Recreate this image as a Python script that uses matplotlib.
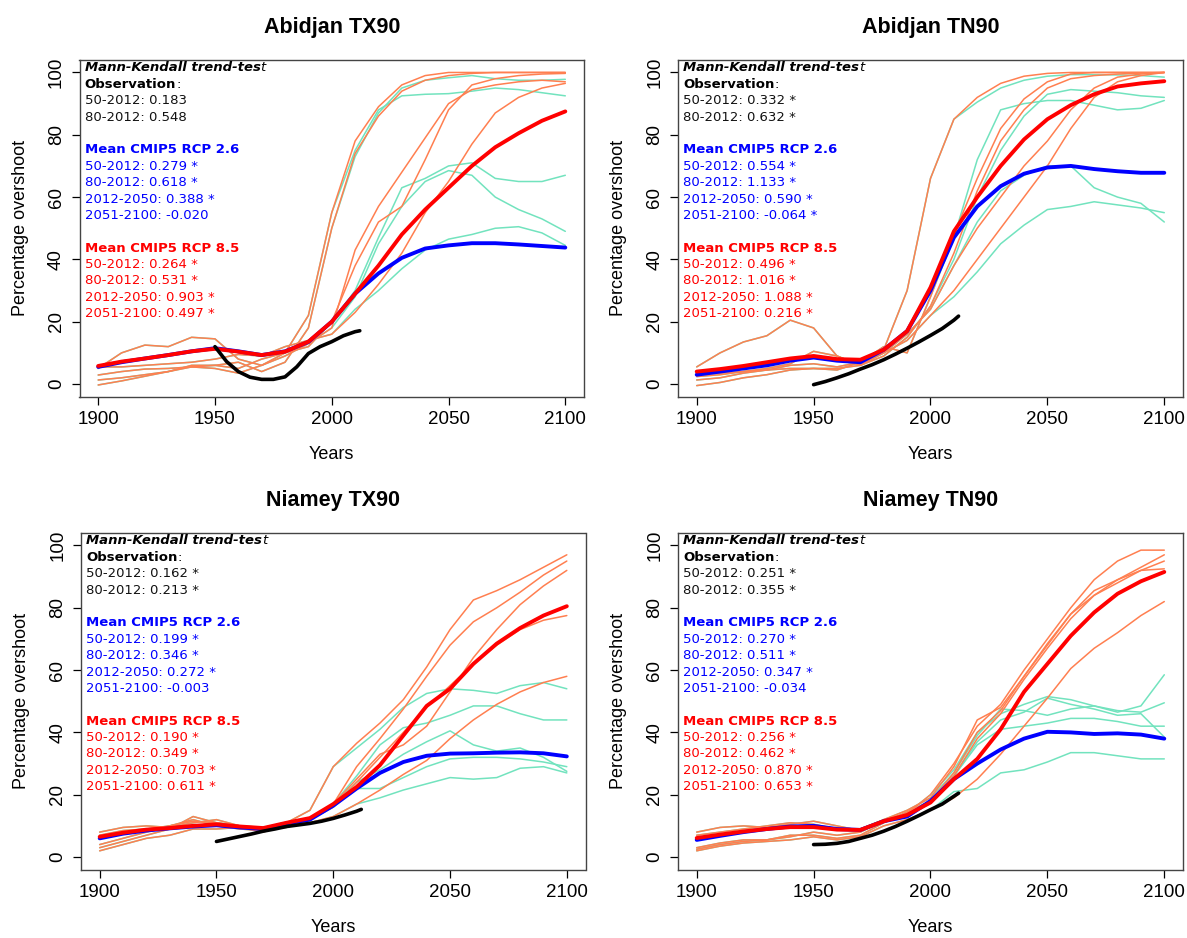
import matplotlib
matplotlib.use("Agg")
import matplotlib.pyplot as plt

# ──────────────────────────────────────────────
# data
# ──────────────────────────────────────────────

YEARS = list(range(1900, 2101, 10))          # 21 points
OBS_YEARS = [1950, 1955, 1960, 1965, 1970, 1975, 1980, 1985, 1990, 1995,
             2000, 2005, 2010, 2012]

# --- Abidjan TX90 ---
ABJ_TX90_HIST = [
    [5, 10, 12.5, 12, 15, 14.5, 8, 6, 10, 22, 55],
    [2.9, 4, 4.8, 5, 5.5, 6, 7, 4, 7, 18, 50],
    [1.3, 2, 3, 4, 6, 6, 5, 8, 10, 12, 20],
    [-0.3, 1, 2.5, 4, 5.5, 5, 3.5, 6, 9, 13, 18],
    [5.5, 5.5, 6, 6.5, 7, 8, 9.5, 9, 12, 14, 16],
]
ABJ_TX90_RCP26 = [
    [75, 88, 92.5, 93, 93.2, 94, 95, 94.5, 93.5, 92.5],
    [73, 87, 95, 97.5, 98.3, 99, 98, 97.5, 97.5, 97.8],
    [30, 47, 63, 66, 70, 71, 66, 65, 65, 67],
    [28, 45, 57, 65, 68.5, 67, 60, 56, 53, 49],
    [24, 30, 37, 43, 46.5, 48, 50, 50.5, 48.5, 44.5],
]
ABJ_TX90_RCP85 = [
    [78, 89, 96, 99, 100, 100, 100, 100, 100, 100],
    [74, 86, 94, 97.5, 99, 99.7, 100, 100, 100, 100],
    [38, 52, 57, 72, 88, 96, 98, 99, 99.5, 99.7],
    [43, 57, 68, 79, 90, 94.5, 96, 97, 97.5, 97],
    [23, 32, 42, 55, 65, 77, 87, 92, 95, 96.5],
]
ABJ_TX90_MEAN26 = [5.5, 7, 8.2, 9.3, 10.5, 11.5, 10.5, 9.3, 10.5, 13.5, 20,
                   29, 35.5, 40.5, 43.5, 44.5, 45.2, 45.2, 44.8, 44.3, 43.8]
ABJ_TX90_MEAN85 = [5.8, 7.2, 8.2, 9.3, 10.5, 11.3, 10.4, 9.3, 10.4, 13.6, 20,
                   29, 38, 48, 56, 63, 70, 76, 80.5, 84.5, 87.5]
ABJ_TX90_OBS = [12, 7.2, 4, 2.2, 1.5, 1.5, 2.3, 5.5, 9.8, 12, 13.6, 15.5, 16.8, 17.1]
ABJ_TX90_MK_OBS = ["50-2012: 0.183", "80-2012: 0.548"]
ABJ_TX90_MK_26 = ["50-2012: 0.279 *", "80-2012: 0.618 *", "2012-2050: 0.388 *", "2051-2100: -0.020"]
ABJ_TX90_MK_85 = ["50-2012: 0.264 *", "80-2012: 0.531 *", "2012-2050: 0.903 *", "2051-2100: 0.497 *"]

# --- Abidjan TN90 ---
ABJ_TN90_HIST = [
    [2.4, 3, 4, 5, 6.5, 10.5, 9, 6, 11, 30, 66],
    [1.3, 2, 3.5, 4.5, 6, 6.5, 5.5, 7, 12, 10, 28],
    [-0.5, 0.5, 2, 3, 4.5, 5, 5, 6, 9, 15, 25],
    [5.5, 10, 13.5, 15.5, 20.5, 18, 9, 6, 10, 16, 24],
    [3, 3.5, 4, 4.5, 5, 5, 4.5, 7, 10, 14, 22],
]
ABJ_TN90_RCP26 = [
    [85, 90.5, 95, 97.5, 98.8, 99.3, 99.3, 99.2, 99, 98.5],
    [47, 72, 88, 90, 91, 91, 89.5, 88, 88.5, 91],
    [40, 60, 75, 86, 93, 94.5, 94, 93.5, 92.5, 92],
    [38, 52, 62, 67, 70, 70, 63, 60, 58, 52],
    [28, 36, 45, 51, 56, 57, 58.5, 57.5, 56.5, 55],
]
ABJ_TN90_RCP85 = [
    [85, 92, 96.5, 98.8, 99.7, 100, 100, 100, 100, 100],
    [48, 66, 82, 91.5, 97, 99.5, 100, 100, 100, 100],
    [42, 62, 78, 88, 95, 98, 99, 99.5, 99.8, 100],
    [38, 50, 60, 70, 78, 88, 95, 98.5, 99.5, 100],
    [30, 40, 50, 60, 70, 82, 92, 97, 99, 100],
]
ABJ_TN90_MEAN26 = [3, 4, 5, 6, 7.5, 8.5, 7.5, 7, 11, 17, 30,
                   47, 57, 63.5, 67.5, 69.5, 70, 69, 68.3, 67.8, 67.8]
ABJ_TN90_MEAN85 = [4, 4.8, 5.8, 7, 8.2, 9, 8, 7.8, 11, 17, 31,
                   49, 60, 70, 78.5, 85, 89.5, 93, 95.5, 96.5, 97.2]
ABJ_TN90_OBS = [-0.2, 0.8, 2, 3.3, 4.8, 6.2, 7.8, 9.6, 11.5, 13.5, 15.6, 17.8, 20.5, 21.8]
ABJ_TN90_MK_OBS = ["50-2012: 0.332 *", "80-2012: 0.632 *"]
ABJ_TN90_MK_26 = ["50-2012: 0.554 *", "80-2012: 1.133 *", "2012-2050: 0.590 *", "2051-2100: -0.064 *"]
ABJ_TN90_MK_85 = ["50-2012: 0.496 *", "80-2012: 1.016 *", "2012-2050: 1.088 *", "2051-2100: 0.216 *"]

# --- Niamey TX90 ---
NIA_TX90_HIST = [
    [8, 9.5, 10, 9.5, 11, 12, 10, 9, 11, 15, 29],
    [7, 8.5, 9, 10, 11.5, 11, 10, 9.5, 11, 12, 17],
    [4, 6, 8, 10, 12, 10, 9, 8.5, 10, 12, 17],
    [3, 5, 7, 9, 13, 11, 10, 9, 9.5, 12, 16],
    [2, 4, 6, 7, 9, 9, 9.5, 8, 10.5, 11, 13],
]
NIA_TX90_RCP26 = [
    [35, 41, 48, 52.5, 54, 53.5, 52.5, 55, 56, 54],
    [26, 36, 41.5, 43, 45.5, 48.5, 48.5, 46, 44, 44],
    [24, 28, 33, 37, 40.5, 36, 34, 35, 32, 27.5],
    [22, 22, 25.5, 29, 31.5, 32, 32, 31.5, 30.5, 29],
    [17, 19, 21.5, 23.5, 25.5, 25, 25.5, 28.5, 29, 27],
]
NIA_TX90_RCP85 = [
    [36.5, 43, 50.5, 61, 73, 82.5, 85.5, 89, 93, 97],
    [29, 38, 47.5, 58, 68, 75.5, 80, 85, 90.5, 95],
    [25, 33, 36, 42, 53, 64, 73, 81, 87, 92],
    [24, 32, 40, 48, 55, 62, 68, 73, 76, 77.5],
    [17, 21.5, 26.5, 31, 38, 44, 49, 53, 56, 58],
]
NIA_TX90_MEAN26 = [6, 7.5, 8.5, 9.2, 9.8, 10.2, 9.5, 9, 10.8, 12, 16.5,
                   22, 27, 30.5, 32.5, 33.2, 33.3, 33.5, 33.6, 33.3, 32.3]
NIA_TX90_MEAN85 = [6.5, 7.8, 8.8, 9.3, 10, 10.5, 9.8, 9.3, 11, 12.5, 17,
                   22.5, 29.5, 39, 48.5, 54, 62, 68.5, 73.5, 77.5, 80.5]
NIA_TX90_OBS = [5, 5.8, 6.6, 7.4, 8.3, 9.0, 9.8, 10.3, 10.8, 11.5, 12.4, 13.5, 14.7, 15.3]
NIA_TX90_MK_OBS = ["50-2012: 0.162 *", "80-2012: 0.213 *"]
NIA_TX90_MK_26 = ["50-2012: 0.199 *", "80-2012: 0.346 *", "2012-2050: 0.272 *", "2051-2100: -0.003"]
NIA_TX90_MK_85 = ["50-2012: 0.190 *", "80-2012: 0.349 *", "2012-2050: 0.703 *", "2051-2100: 0.611 *"]

# --- Niamey TN90 ---
NIA_TN90_HIST = [
    [8, 9.5, 10, 9.5, 10.5, 11.5, 10, 8.5, 12, 14, 20],
    [7, 8, 9, 10, 11, 10.5, 9, 9, 12, 15, 19],
    [3, 4.5, 5.5, 5.5, 6.5, 8, 7, 8, 11.5, 14, 18],
    [2.5, 4, 5, 5.5, 7, 7, 6, 7, 11, 14.5, 18],
    [2, 3.5, 4.5, 5, 5.5, 6.5, 5.5, 6.5, 10, 12, 15],
]
NIA_TN90_RCP26 = [
    [28, 40, 46, 49, 51.5, 50.5, 48.5, 46.5, 48.5, 58.5],
    [27, 39, 47.5, 47, 45.5, 47.5, 48.5, 47, 46.5, 49.5],
    [26, 36, 41, 42, 43, 44.5, 44.5, 43.5, 42, 42],
    [26, 37, 44, 46.5, 51, 49, 47.5, 45.5, 46, 38.5],
    [21, 22, 27, 28, 30.5, 33.5, 33.5, 32.5, 31.5, 31.5],
]
NIA_TN90_RCP85 = [
    [30, 42, 49, 60, 70, 80, 89, 95, 98.5, 98.5],
    [29, 44, 48, 58, 68, 78, 85.5, 89, 93, 97],
    [27, 40, 47, 58, 68.5, 78, 84, 88, 92, 95],
    [26, 38, 46, 57, 67, 76.5, 84, 89, 92, 92.5],
    [19, 25, 33, 42, 51, 60.5, 67, 72, 77.5, 82],
]
NIA_TN90_MEAN26 = [5.5, 6.8, 8, 9, 9.8, 10, 9, 8.7, 11.5, 13, 18,
                   25, 30, 34.5, 38, 40.2, 40, 39.5, 39.7, 39.3, 38]
NIA_TN90_MEAN85 = [6.1, 7.2, 8.2, 9, 9.6, 9.6, 8.8, 8.7, 11.5, 13.5, 17.5,
                   25, 31.5, 41, 53, 62, 71, 78.5, 84.5, 88.5, 91.5]
NIA_TN90_OBS = [4, 4.1, 4.4, 5, 6, 7, 8.3, 9.8, 11.5, 13.3, 15.2, 17, 19.5, 20.5]
NIA_TN90_MK_OBS = ["50-2012: 0.251 *", "80-2012: 0.355 *"]
NIA_TN90_MK_26 = ["50-2012: 0.270 *", "80-2012: 0.511 *", "2012-2050: 0.347 *", "2051-2100: -0.034"]
NIA_TN90_MK_85 = ["50-2012: 0.256 *", "80-2012: 0.462 *", "2012-2050: 0.870 *", "2051-2100: 0.653 *"]

# ──────────────────────────────────────────────
# style
# ──────────────────────────────────────────────

TEAL = "#72E3BE"
CORAL = "#FF7F50"
BLUE = "#0000FF"
RED = "#FF0000"

plt.rcParams["font.family"] = ["Liberation Sans", "DejaVu Sans"]

W, H = 1187, 938
# axes boxes in pixels: left, top, right, bottom
BOXES = [
    (79.5, 60, 584, 396.5),
    (678, 60, 1183, 396.5),
    (81, 533, 585.5, 869.5),
    (678, 533, 1183, 869.5),
]


def add_stats(ax, mk_obs, mk_26, mk_85):
    x0, y0, dy = 0.0103, 0.978, 0.0487
    fs = 9.5
    kw = dict(transform=ax.transAxes, fontsize=fs, family="DejaVu Sans",
              ha="left", va="baseline")
    base = -0.012  # baseline offset from line centre

    t = ax.text(x0, y0 + base, "Mann-Kendall trend-tes", fontweight="bold",
                style="italic", color="black", **kw)
    ax.annotate("t", xy=(1, 0), xycoords=t, ha="left", va="bottom",
                fontsize=fs, family="DejaVu Sans", style="italic", color="black")

    t = ax.text(x0, y0 - dy + base, "Observation", fontweight="bold", color="black", **kw)
    ax.annotate(":", xy=(1, 0), xycoords=t, ha="left", va="bottom",
                fontsize=fs, family="DejaVu Sans", color="black")

    lines = [(2 + i, s, "#111111", "normal") for i, s in enumerate(mk_obs)]
    lines.append((5, "Mean CMIP5 RCP 2.6", BLUE, "bold"))
    lines += [(6 + i, s, BLUE, "normal") for i, s in enumerate(mk_26)]
    lines.append((11, "Mean CMIP5 RCP 8.5", RED, "bold"))
    lines += [(12 + i, s, RED, "normal") for i, s in enumerate(mk_85)]
    for row, s, c, fw in lines:
        ax.text(x0, y0 - row * dy + base, s, color=c, fontweight=fw, **kw)


def draw_panel(ax, title, hist, rcp26, rcp85, mean26, mean85, obs, mk_obs, mk_26, mk_85):
    line_kw = dict(solid_capstyle="round", solid_joinstyle="round")
    for h, f in zip(hist, rcp26):
        ax.plot(YEARS, h + f, color=TEAL, lw=1.1, **line_kw)
    for h, f in zip(hist, rcp85):
        ax.plot(YEARS, h + f, color=CORAL, lw=1.1, **line_kw)
    ax.plot(YEARS, mean26, color=BLUE, lw=2.8, **line_kw)
    ax.plot(YEARS, mean85, color=RED, lw=2.8, **line_kw)
    ax.plot(OBS_YEARS, obs, color="black", lw=2.6, **line_kw)

    ax.set_xlim(1892, 2108)
    ax.set_ylim(-4, 104)
    ax.set_xticks([1900, 1950, 2000, 2050, 2100])
    ax.set_yticks([0, 20, 40, 60, 80, 100])
    ax.tick_params(direction="out", length=5.5, width=0.9, labelsize=13.5, pad=5)
    ax.tick_params(axis="y", labelrotation=90)
    for lbl in ax.get_yticklabels():
        lbl.set_va("center")
    for sp in ax.spines.values():
        sp.set_color("#444444")
        sp.set_linewidth(1.0)

    ax.set_xlabel("Years", fontsize=13, va="center")
    ax.xaxis.set_label_coords(0.5, -58.5 / 337)
    ax.set_ylabel("Percentage overshoot", fontsize=13, va="center")
    ax.yaxis.set_label_coords(-59 / 504.5, 0.5)
    ax.text(0.5, 1 + 33 / 337, title, transform=ax.transAxes, ha="center",
            va="center", fontsize=15.5, fontweight="bold")

    add_stats(ax, mk_obs, mk_26, mk_85)


fig = plt.figure(figsize=(W / 100, H / 100), dpi=100, facecolor="white")

panels = [
    ("Abidjan TX90", ABJ_TX90_HIST, ABJ_TX90_RCP26, ABJ_TX90_RCP85, ABJ_TX90_MEAN26,
     ABJ_TX90_MEAN85, ABJ_TX90_OBS, ABJ_TX90_MK_OBS, ABJ_TX90_MK_26, ABJ_TX90_MK_85),
    ("Abidjan TN90", ABJ_TN90_HIST, ABJ_TN90_RCP26, ABJ_TN90_RCP85, ABJ_TN90_MEAN26,
     ABJ_TN90_MEAN85, ABJ_TN90_OBS, ABJ_TN90_MK_OBS, ABJ_TN90_MK_26, ABJ_TN90_MK_85),
    ("Niamey TX90", NIA_TX90_HIST, NIA_TX90_RCP26, NIA_TX90_RCP85, NIA_TX90_MEAN26,
     NIA_TX90_MEAN85, NIA_TX90_OBS, NIA_TX90_MK_OBS, NIA_TX90_MK_26, NIA_TX90_MK_85),
    ("Niamey TN90", NIA_TN90_HIST, NIA_TN90_RCP26, NIA_TN90_RCP85, NIA_TN90_MEAN26,
     NIA_TN90_MEAN85, NIA_TN90_OBS, NIA_TN90_MK_OBS, NIA_TN90_MK_26, NIA_TN90_MK_85),
]

for (l, t, r, b), args in zip(BOXES, panels):
    ax = fig.add_axes([l / W, 1 - b / H, (r - l) / W, (b - t) / H])
    draw_panel(ax, *args)

fig.savefig("out.png", dpi=100, facecolor="white")
